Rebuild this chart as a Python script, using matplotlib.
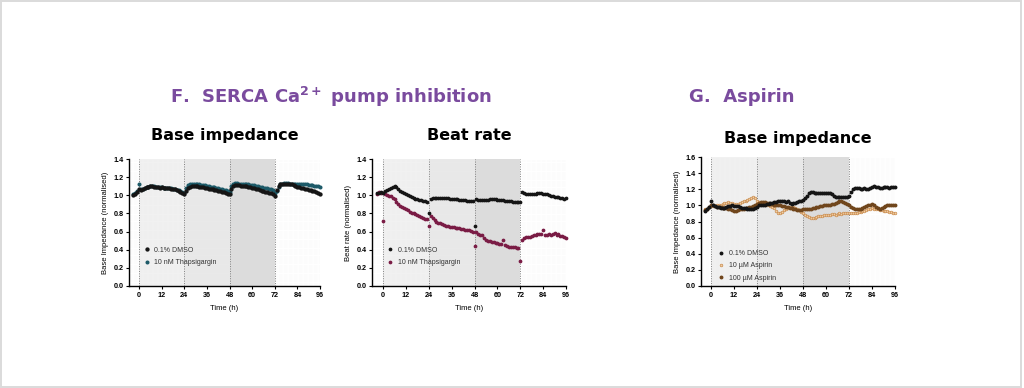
import numpy as np
import matplotlib
matplotlib.use("Agg")
import matplotlib.pyplot as plt
from matplotlib.patches import Rectangle

plt.rcParams['font.family'] = ['Liberation Sans', 'DejaVu Sans']
plt.rcParams['mathtext.fontset'] = 'custom'
plt.rcParams['mathtext.bf'] = 'DejaVu Sans:bold'

# hourly time points, -3 h to 96 h
time_h = np.arange(-3, 97)

# F. base impedance (normalised)
imp_dmso = [1.00, 1.02, 1.04, 1.07,
            1.06, 1.07, 1.08, 1.09, 1.09, 1.10,
            1.10, 1.09, 1.09, 1.09, 1.08, 1.09,
            1.08, 1.08, 1.08, 1.08, 1.07, 1.07,
            1.07, 1.06, 1.05, 1.04, 1.03, 1.01,
            1.05, 1.08, 1.09, 1.10, 1.10, 1.10,
            1.10, 1.09, 1.09, 1.09, 1.08, 1.08,
            1.07, 1.07, 1.07, 1.06, 1.06, 1.05,
            1.05, 1.04, 1.04, 1.03, 1.02, 1.01,
            1.07, 1.10, 1.11, 1.11, 1.11, 1.10,
            1.10, 1.10, 1.10, 1.09, 1.09, 1.08,
            1.08, 1.07, 1.07, 1.06, 1.05, 1.05,
            1.04, 1.04, 1.03, 1.03, 1.02, 0.99,
            1.06, 1.10, 1.12, 1.13, 1.13, 1.13,
            1.13, 1.12, 1.12, 1.11, 1.10, 1.09,
            1.09, 1.08, 1.08, 1.07, 1.07, 1.06,
            1.06, 1.05, 1.05, 1.04, 1.03, 1.02]
imp_thap = [1.01, 1.03, 1.05, 1.12,
            1.07, 1.07, 1.08, 1.09, 1.09, 1.10,
            1.10, 1.10, 1.09, 1.09, 1.09, 1.09,
            1.08, 1.08, 1.08, 1.08, 1.08, 1.07,
            1.07, 1.06, 1.06, 1.05, 1.04, 1.03,
            1.08, 1.11, 1.12, 1.13, 1.13, 1.12,
            1.12, 1.12, 1.11, 1.11, 1.11, 1.10,
            1.10, 1.09, 1.09, 1.09, 1.08, 1.08,
            1.07, 1.07, 1.06, 1.06, 1.05, 1.04,
            1.10, 1.13, 1.14, 1.14, 1.13, 1.13,
            1.13, 1.12, 1.12, 1.12, 1.11, 1.11,
            1.11, 1.10, 1.10, 1.09, 1.09, 1.08,
            1.08, 1.08, 1.07, 1.07, 1.06, 1.03,
            1.05, 1.09, 1.12, 1.13, 1.14, 1.14,
            1.14, 1.13, 1.13, 1.13, 1.13, 1.13,
            1.13, 1.12, 1.12, 1.12, 1.12, 1.11,
            1.11, 1.11, 1.10, 1.10, 1.10, 1.09]

# F. beat rate (normalised)
br_dmso = [1.03, 1.03, 1.04, 1.03,
           1.05, 1.06, 1.07, 1.08, 1.09, 1.10,
           1.09, 1.07, 1.05, 1.04, 1.03, 1.01,
           1.00, 0.99, 0.98, 0.97, 0.96, 0.96,
           0.95, 0.95, 0.94, 0.94, 0.93, 0.81,
           0.96, 0.97, 0.97, 0.97, 0.97, 0.97,
           0.97, 0.97, 0.97, 0.97, 0.96, 0.96,
           0.96, 0.96, 0.96, 0.95, 0.95, 0.95,
           0.95, 0.94, 0.94, 0.94, 0.94, 0.66,
           0.96, 0.95, 0.95, 0.95, 0.95, 0.95,
           0.95, 0.96, 0.96, 0.96, 0.96, 0.95,
           0.95, 0.95, 0.95, 0.94, 0.94, 0.94,
           0.94, 0.93, 0.93, 0.93, 0.93, 0.93,
           1.04, 1.03, 1.02, 1.01, 1.01, 1.02,
           1.02, 1.02, 1.03, 1.03, 1.03, 1.02,
           1.02, 1.01, 1.00, 0.99, 0.99, 0.98,
           0.98, 0.98, 0.97, 0.97, 0.96, 0.97]
br_thap = [1.02, 1.04, 1.03, 0.72,
           1.01, 1.00, 0.99, 0.99, 0.97, 0.96,
           0.93, 0.90, 0.88, 0.87, 0.86, 0.85,
           0.84, 0.82, 0.81, 0.80, 0.79, 0.78,
           0.77, 0.76, 0.75, 0.74, 0.74, 0.66,
           0.77, 0.75, 0.73, 0.71, 0.70, 0.69,
           0.68, 0.67, 0.66, 0.66, 0.65, 0.65,
           0.65, 0.64, 0.64, 0.64, 0.63, 0.63,
           0.62, 0.62, 0.62, 0.61, 0.60, 0.44,
           0.59, 0.57, 0.56, 0.56, 0.53, 0.51,
           0.50, 0.50, 0.49, 0.48, 0.47, 0.47,
           0.46, 0.46, 0.51, 0.45, 0.44, 0.43,
           0.43, 0.43, 0.43, 0.42, 0.42, 0.28,
           0.51, 0.53, 0.54, 0.54, 0.54, 0.55,
           0.56, 0.56, 0.57, 0.57, 0.57, 0.62,
           0.56, 0.56, 0.57, 0.56, 0.57, 0.58,
           0.56, 0.57, 0.55, 0.55, 0.54, 0.53]

# G. aspirin, base impedance (normalised)
asp_dmso = [0.93, 0.96, 0.98, 1.06,
            1.01, 0.99, 0.98, 0.98, 0.97, 0.97,
            0.97, 0.98, 0.99, 0.99, 1.00, 0.99,
            0.99, 0.99, 0.98, 0.97, 0.97, 0.97,
            0.96, 0.96, 0.95, 0.95, 0.97, 0.98,
            1.00, 1.00, 1.01, 1.01, 1.02, 1.02,
            1.03, 1.03, 1.04, 1.04, 1.05, 1.05,
            1.05, 1.05, 1.04, 1.05, 1.03, 1.02,
            1.03, 1.03, 1.04, 1.05, 1.06, 1.07,
            1.09, 1.12, 1.15, 1.17, 1.17, 1.16,
            1.16, 1.16, 1.16, 1.16, 1.16, 1.15,
            1.15, 1.15, 1.14, 1.12, 1.10, 1.10,
            1.10, 1.10, 1.10, 1.11, 1.11, 1.12,
            1.17, 1.20, 1.22, 1.22, 1.22, 1.21,
            1.21, 1.22, 1.21, 1.21, 1.22, 1.23,
            1.24, 1.23, 1.23, 1.22, 1.22, 1.23,
            1.23, 1.23, 1.22, 1.23, 1.23, 1.23]
asp_10 = [0.95, 0.96, 0.98, 0.99,
          0.99, 0.99, 1.00, 1.01, 1.01, 1.02,
          1.03, 1.03, 1.04, 1.03, 1.03, 1.02,
          1.02, 1.02, 1.03, 1.04, 1.05, 1.06,
          1.07, 1.08, 1.09, 1.10, 1.09, 1.06,
          1.04, 1.03, 1.02, 1.01, 1.00, 1.00,
          0.99, 0.98, 0.97, 0.93, 0.91, 0.90,
          0.92, 0.94, 0.96, 0.97, 0.98, 0.98,
          0.98, 0.97, 0.96, 0.94, 0.92, 0.91,
          0.88, 0.87, 0.86, 0.85, 0.84, 0.85,
          0.86, 0.87, 0.87, 0.87, 0.88, 0.88,
          0.88, 0.88, 0.89, 0.89, 0.88, 0.89,
          0.90, 0.89, 0.90, 0.90, 0.91, 0.91,
          0.90, 0.90, 0.91, 0.91, 0.92, 0.92,
          0.93, 0.93, 0.94, 0.95, 0.96, 0.97,
          0.96, 0.96, 0.95, 0.94, 0.94, 0.93,
          0.93, 0.93, 0.92, 0.92, 0.91, 0.91]
asp_100 = [0.94, 0.96, 0.98, 1.00,
           1.00, 0.99, 0.98, 0.98, 0.98, 0.97,
           0.97, 0.97, 0.96, 0.95, 0.94, 0.93,
           0.93, 0.94, 0.95, 0.96, 0.96, 0.97,
           0.97, 0.98, 0.98, 0.99, 1.00, 1.02,
           1.03, 1.04, 1.04, 1.04, 1.03, 1.03,
           1.02, 1.02, 1.01, 1.00, 1.00, 1.00,
           0.99, 0.99, 0.98, 0.98, 0.97, 0.97,
           0.96, 0.95, 0.94, 0.94, 0.94, 0.95,
           0.95, 0.95, 0.96, 0.96, 0.97, 0.97,
           0.98, 0.98, 0.99, 0.99, 1.00, 1.00,
           1.01, 1.01, 1.02, 1.02, 1.03, 1.04,
           1.05, 1.05, 1.04, 1.03, 1.02, 1.00,
           0.98, 0.97, 0.96, 0.96, 0.95, 0.96,
           0.97, 0.98, 0.99, 1.00, 1.01, 1.02,
           1.00, 0.98, 0.97, 0.96, 0.97, 0.98,
           0.99, 1.00, 1.00, 1.00, 1.01, 1.01]

day_edges = [0, 24, 48, 72, 96]
day_shades = ['#f1f1f1', '#e9e9e9', '#dcdcdc']
xticks = [0, 12, 24, 36, 48, 60, 72, 84, 96]

purple = '#7a4b9e'

fig = plt.figure(figsize=(10.24, 3.88), dpi=100)
fig.patch.set_facecolor('white')
fig.patches.append(Rectangle((0.0005, 0.002), 0.997, 0.996, transform=fig.transFigure,
                             fill=False, edgecolor='#dadada', linewidth=1.4))


def setup(ax, ymax, ystep, ylabel, xmin):
    for i, c in enumerate(day_shades):
        ax.axvspan(day_edges[i], day_edges[i + 1], color=c, zorder=0, lw=0)
    for y in np.arange(0, ymax, 0.025):
        ax.axhline(y, color='#e4e4e4', lw=0.3, ls=(0, (1, 2)), zorder=0.5)
    for d in day_edges[:-1]:
        ax.axvline(d, color='#808080', lw=0.7, ls=(0, (1, 1.5)), zorder=1)
    ax.set_xlim(xmin, 96)
    ax.set_ylim(0, ymax)
    ax.set_xticks(xticks)
    ax.set_yticks(np.arange(0, ymax + 0.001, ystep))
    ax.yaxis.set_major_formatter(plt.FormatStrFormatter('%.1f'))
    for s in ['top', 'right']:
        ax.spines[s].set_visible(False)
    for s in ['left', 'bottom']:
        ax.spines[s].set_linewidth(1.0)
    ax.tick_params(labelsize=5.2, width=0.8, length=2.5, pad=1.5)
    for lab in ax.get_xticklabels() + ax.get_yticklabels():
        lab.set_fontweight('bold')
    ax.set_xlabel('Time (h)', fontsize=5.5, labelpad=5)
    ax.set_ylabel(ylabel, fontsize=5.5, labelpad=3)


def legend(ax, x, y, handles=None, labels=None):
    if handles is None:
        handles, labels = ax.get_legend_handles_labels()
    leg = ax.legend(handles, labels, loc='upper left', bbox_to_anchor=(x, y), frameon=False,
                    fontsize=5, handletextpad=0.6, labelspacing=0.75,
                    borderaxespad=0, handlelength=1.0)
    for t in leg.get_texts():
        t.set_color('#333333')


# panel F: base impedance
ax1 = fig.add_axes([0.126, 0.263, 0.1865, 0.327])
setup(ax1, 1.4, 0.2, 'Base Impedance (normalised)', -5.3)
ax1.plot(time_h, imp_dmso, 'o', ms=2.1, color='#151515', label='0.1% DMSO', zorder=3, clip_on=False)
ax1.plot(time_h, imp_thap, 'o', ms=1.9, color='#1d5a68', label='10 nM Thapsigargin', zorder=2, clip_on=False)
legend(ax1, 0.06, 0.33)
ax1.set_title('Base impedance', fontsize=11.5, fontweight='bold', pad=14, family='DejaVu Sans')

# panel F: beat rate
ax2 = fig.add_axes([0.3633, 0.263, 0.1895, 0.327])
setup(ax2, 1.4, 0.2, 'Beat rate (normalised)', -5.8)
ax2.plot(time_h, br_dmso, 'o', ms=1.7, color='#151515', label='0.1% DMSO', zorder=3, clip_on=False)
ax2.plot(time_h, br_thap, 'o', ms=1.7, color='#7a1c45', label='10 nM Thapsigargin', zorder=2, clip_on=False)
legend(ax2, 0.06, 0.33)
ax2.set_title('Beat rate', fontsize=11.5, fontweight='bold', pad=14, family='DejaVu Sans')

# panel G: aspirin
ax3 = fig.add_axes([0.6846, 0.263, 0.1895, 0.332])
setup(ax3, 1.6, 0.2, 'Base Impedance (normalised)', -5.2)
ax3.plot(time_h, asp_10, 'o', ms=1.9, mfc='#f2cfa4', mec='#c88a4c', mew=0.5,
         label='10 µM Aspirin', zorder=2, clip_on=False)
ax3.plot(time_h, asp_100, 'o', ms=1.8, color='#70461c', label='100 µM Aspirin', zorder=3, clip_on=False)
ax3.plot(time_h, asp_dmso, 'o', ms=1.8, color='#151515', label='0.1% DMSO', zorder=4, clip_on=False)
h, l = ax3.get_legend_handles_labels()
legend(ax3, 0.07, 0.3, [h[2], h[0], h[1]], [l[2], l[0], l[1]])
ax3.set_title('Base impedance', fontsize=11.5, fontweight='bold', pad=10, family='DejaVu Sans')

fig.text(0.166, 0.75, r'F.  SERCA Ca$^{\mathbf{2+}}$ pump inhibition', fontsize=13,
         fontweight='bold', color=purple, family='DejaVu Sans', va='center')
fig.text(0.673, 0.75, 'G.  Aspirin', fontsize=13, fontweight='bold', color=purple,
         family='DejaVu Sans', va='center')

fig.savefig('out.png', dpi=100, facecolor='white')
